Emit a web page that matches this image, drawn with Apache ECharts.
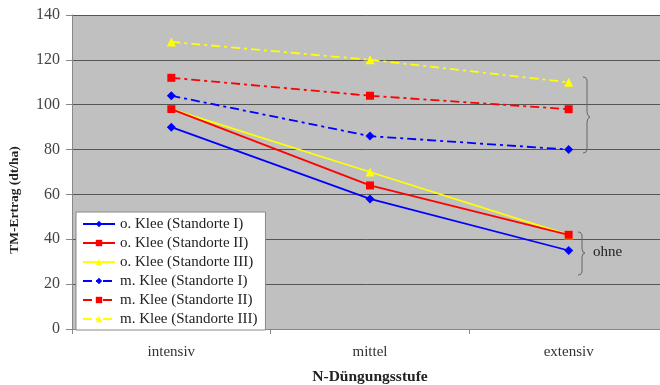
<!DOCTYPE html>
<html><head><meta charset="utf-8">
<script src="https://cdn.jsdelivr.net/npm/echarts@6/dist/echarts.min.js"></script>
<style>html,body{margin:0;padding:0;background:#fff;overflow:hidden}#c{width:660px;height:385px}</style>
</head><body><div id="c"></div>
<script>
var categories = ['intensiv', 'mittel', 'extensiv'];
var yTicks = [0, 20, 40, 60, 80, 100, 120, 140];
var seriesNames = ['o. Klee (Standorte I)', 'o. Klee (Standorte II)', 'o. Klee (Standorte III)', 'm. Klee (Standorte I)', 'm. Klee (Standorte II)', 'm. Klee (Standorte III)'];
var oKleeI = [90, 58, 35];
var oKleeII = [98, 64, 42];
var oKleeIII = [98, 70, 42];
var mKleeI = [104, 86, 80];
var mKleeII = [112, 104, 98];
var mKleeIII = [128, 120, 110];

var colors = ['#0000ff', '#ff0000', '#ffff00', '#0000ff', '#ff0000', '#ffff00'];
var symbols = ['diamond', 'rect', 'triangle', 'diamond', 'rect', 'triangle'];
var symSizes = [9, 8, 9, 9, 8, 9];
var dataSets = [oKleeI, oKleeII, oKleeIII, mKleeI, mKleeII, mKleeIII];
var serif = '"Liberation Serif", "DejaVu Serif", serif';

var series = dataSets.map(function (d, i) {
  return {
    name: seriesNames[i], type: 'line', data: d,
    symbol: symbols[i], symbolSize: symSizes[i],
    itemStyle: { color: colors[i] },
    lineStyle: { color: colors[i], width: 1.8, type: i < 3 ? 'solid' : [9, 4, 3, 4] },
    z: 10 - i
  };
});

var chart = echarts.init(document.getElementById('c'));
chart.setOption({
  animation: false,
  backgroundColor: '#fff',
  grid: { left: 72, top: 15, width: 596, height: 314, outerBoundsMode: 'none', containLabel: false,
    backgroundColor: '#c0c0c0', show: true, borderWidth: 0 },
  xAxis: {
    type: 'category', data: categories, boundaryGap: true,
    name: 'N-Düngungsstufe', nameLocation: 'middle', nameGap: 40,
    nameTextStyle: { fontFamily: serif, fontWeight: 'bold', fontSize: 15.5, color: '#222' },
    axisLine: { show: true, lineStyle: { color: '#888' } },
    axisTick: { show: true, length: 5, lineStyle: { color: '#888' } },
    axisLabel: { fontFamily: serif, fontSize: 15, color: '#333', margin: 16 }
  },
  yAxis: {
    type: 'value', min: 0, max: 140, interval: 20,
    axisLine: { show: true, lineStyle: { color: '#888' } },
    axisTick: { show: true, length: 6, inside: false, lineStyle: { color: '#888' } },
    axisLabel: { fontFamily: serif, fontSize: 16, color: '#444', margin: 12,
      formatter: function (v) { return yTicks.indexOf(v) >= 0 ? String(v) : ''; } },
    splitLine: { show: true, lineStyle: { color: '#555', width: 1 } }
  },
  legend: {
    orient: 'vertical', left: 76, top: 212,
    data: seriesNames,
    backgroundColor: '#fff', borderColor: '#888', borderWidth: 1,
    padding: [4, 8, 3, 6], itemGap: 3, itemWidth: 32, itemHeight: 8,
    textStyle: { fontFamily: serif, fontSize: 15, color: '#222', lineHeight: 16 }
  },
  graphic: [
    { type: 'text', x: 15, y: 200, rotation: Math.PI / 2,
      style: { text: 'TM-Ertrag (dt/ha)', font: 'bold 13.5px ' + serif, fill: '#222', align: 'center', verticalAlign: 'middle' } },
    { type: 'polyline', z: 20,
      shape: { points: [[583,77],[585.5,77.5],[587,80],[587,112],[588,115.5],[590,117],[588,118.5],[587,122],[587,150],[585.5,152.5],[583,153]] },
      style: { stroke: '#666', lineWidth: 1, fill: null } },
    { type: 'polyline', z: 20,
      shape: { points: [[578,232],[580.5,232.5],[582,235],[582,249],[583,252],[585,253],[583,254],[582,257],[582,272],[580.5,274.5],[578,275]] },
      style: { stroke: '#666', lineWidth: 1, fill: null } },
    { type: 'text', x: 593, y: 252, z: 20, style: { text: 'ohne', font: '15px ' + serif, fill: '#222', verticalAlign: 'middle' } }
  ],
  series: series
});
</script></body></html>
